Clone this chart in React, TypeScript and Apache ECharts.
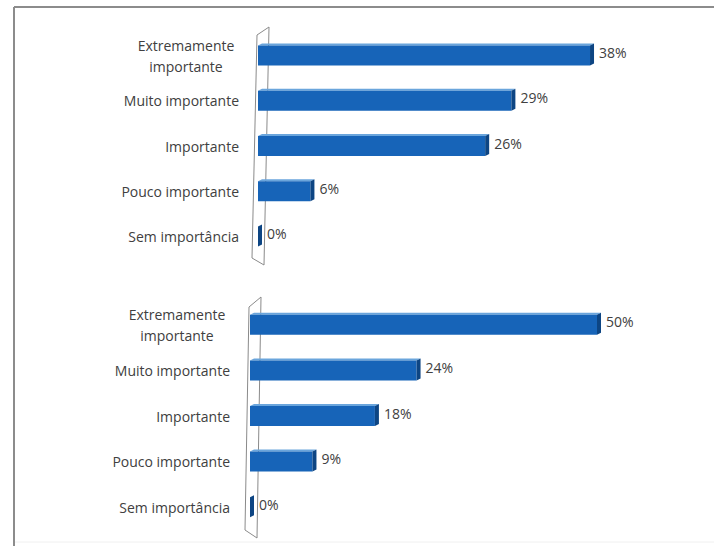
import React, { useEffect, useRef } from "react";
import * as echarts from "echarts";

const categories = [
  "Extremamente\nimportante",
  "Muito importante",
  "Importante",
  "Pouco importante",
  "Sem importância",
];
const topValues = [38, 29, 26, 6, 0];
const bottomValues = [50, 24, 18, 9, 0];

const FONT = "Open Sans";
const LABEL_COLOR = "#404040";

function renderBar(params: any, api: any) {
  const v = api.value(0);
  const idx = api.value(1);
  const p0 = api.coord([0, idx]);
  const p1 = api.coord([v, idx]);
  const h = 20;
  const d = 4;
  const x0 = p0[0];
  const x1 = p1[0];
  const y = p0[1];
  return {
    type: "group",
    children: [
      {
        type: "polygon",
        shape: {
          points: [
            [x0, y - h / 2],
            [x0 + d, y - h / 2 - 2],
            [x1 + d, y - h / 2 - 2],
            [x1, y - h / 2],
          ],
        },
        style: { fill: "#6aa5dc" },
      },
      {
        type: "rect",
        shape: { x: x0, y: y - h / 2, width: Math.max(0, x1 - x0), height: h },
        style: { fill: "#1764b8" },
      },
      {
        type: "polygon",
        shape: {
          points: [
            [x1, y - h / 2],
            [x1 + d, y - h / 2 - 2],
            [x1 + d, y + h / 2 - 2],
            [x1, y + h / 2],
          ],
        },
        style: { fill: "#0d4583" },
      },
      {
        type: "text",
        x: x1 + d + 5,
        y: y - 3,
        style: {
          text: v + "%",
          fill: LABEL_COLOR,
          fontSize: 14,
          fontFamily: FONT,
          align: "left",
          verticalAlign: "middle",
          textAlign: "left",
          textVerticalAlign: "middle",
        },
      },
    ],
  };
}

function yAxisCfg(gridIndex: number, margin: number) {
  return {
    type: "category",
    gridIndex,
    inverse: true,
    data: categories,
    axisLine: { show: false },
    axisTick: { show: false },
    splitLine: { show: false },
    axisLabel: {
      margin,
      color: LABEL_COLOR,
      fontSize: 14,
      fontFamily: FONT,
      lineHeight: 21,
      formatter: (val: string) => {
        if (val.indexOf("\n") >= 0) {
          return val
            .split("\n")
            .map((s) => "{c|" + s + "}")
            .join("\n");
        }
        return val;
      },
      rich: {
        c: {
          width: 106,
          align: "center",
          color: LABEL_COLOR,
          fontSize: 14,
          fontFamily: FONT,
          lineHeight: 21,
        },
      },
    },
  };
}

function wall(pts: number[][]) {
  return {
    type: "polygon",
    shape: { points: pts },
    style: { fill: "rgba(255,255,255,0)", stroke: "#8a8a8a", lineWidth: 1 },
    z: 1,
  };
}

export default function App() {
  const ref = useRef<HTMLDivElement>(null);
  useEffect(() => {
    if (!ref.current) return;
    const chart = echarts.init(ref.current, undefined, { renderer: "svg" });
    chart.setOption({
      animation: false,
      backgroundColor: "#ffffff",
      grid: [
        { left: 258, top: 33, width: 349.5, height: 226 },
        { left: 250, top: 302, width: 347, height: 228 },
      ],
      xAxis: [
        { type: "value", gridIndex: 0, min: 0, max: 40, show: false },
        { type: "value", gridIndex: 1, min: 0, max: 50, show: false },
      ],
      yAxis: [yAxisCfg(0, 19), yAxisCfg(1, 20)],
      graphic: [
        {
          type: "line",
          shape: { x1: 14, y1: 7, x2: 714, y2: 7 },
          style: { stroke: "#8c8c8c", lineWidth: 2 },
        },
        {
          type: "line",
          shape: { x1: 14, y1: 7, x2: 14, y2: 546 },
          style: { stroke: "#8c8c8c", lineWidth: 2 },
        },
        {
          type: "line",
          shape: { x1: 15, y1: 542, x2: 714, y2: 542 },
          style: { stroke: "#f0f0f0", lineWidth: 1 },
        },
        wall([
          [252, 258],
          [257, 35],
          [269, 27],
          [264, 265],
        ]),
        wall([
          [245, 530],
          [249, 307],
          [261, 297],
          [257, 538],
        ]),
      ],
      series: [
        {
          type: "custom",
          xAxisIndex: 0,
          yAxisIndex: 0,
          renderItem: renderBar,
          encode: { x: 0, y: 1 },
          data: topValues.map((v, i) => [v, i]),
          z: 5,
        },
        {
          type: "custom",
          xAxisIndex: 1,
          yAxisIndex: 1,
          renderItem: renderBar,
          encode: { x: 0, y: 1 },
          data: bottomValues.map((v, i) => [v, i]),
          z: 5,
        },
      ],
    });
    return () => chart.dispose();
  }, []);
  return (
    <div
      ref={ref}
      style={{ position: "fixed", left: 0, top: 0, width: 714, height: 546 }}
    />
  );
}
